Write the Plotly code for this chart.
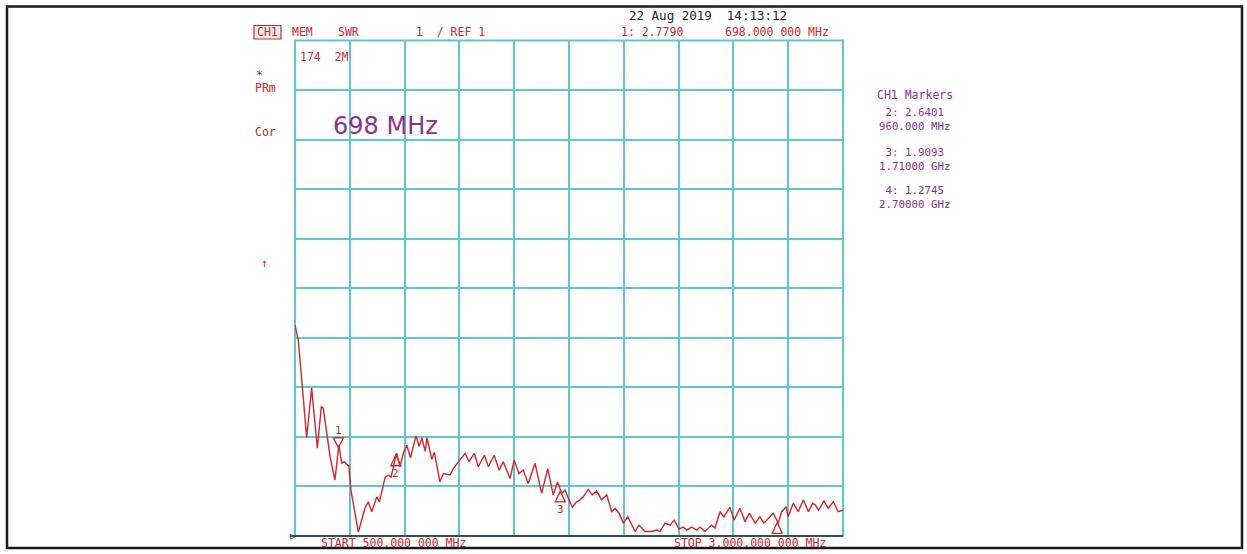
import plotly.graph_objects as go

# ---------------- data ----------------
freq_mhz = [500, 503, 515, 535, 553, 576, 602, 620, 629, 660, 682, 700, 713, 724, 738,
            746, 755, 789, 819, 834, 850, 873, 885, 911, 926, 938, 956, 964, 979, 994,
            1010, 1027, 1052, 1066, 1079, 1094, 1102, 1124, 1136, 1161, 1177, 1207, 1222,
            1245, 1276, 1294, 1318, 1336, 1364, 1382, 1409, 1431, 1450, 1481, 1500, 1522,
            1541, 1564, 1595, 1625, 1653, 1678, 1698, 1717, 1732, 1750, 1765, 1785, 1800,
            1815, 1838, 1856, 1876, 1899, 1922, 1945, 1960, 1978, 1998, 2018, 2051, 2069,
            2097, 2127, 2150, 2165, 2188, 2211, 2230, 2252, 2271, 2287, 2310, 2333, 2348,
            2370, 2401, 2416, 2439, 2457, 2484, 2503, 2530, 2553, 2573, 2599, 2621, 2639,
            2659, 2682, 2705, 2720, 2740, 2750, 2773, 2796, 2819, 2842, 2862, 2873, 2888,
            2913, 2933, 2956, 2978, 3000]
swr = [5.26, 5.18, 4.95, 3.94, 2.98, 3.99, 2.77, 3.61, 3.58, 2.60, 2.13, 2.83, 2.47, 2.50, 2.45,
       2.41, 1.93, 1.08, 1.56, 1.69, 1.49, 1.79, 1.69, 2.18, 2.23, 2.19, 2.53, 2.67, 2.40, 2.67,
       2.83, 2.58, 3.02, 2.81, 2.98, 2.71, 2.98, 2.55, 2.69, 2.09, 2.26, 2.23, 2.36,
       2.50, 2.67, 2.50, 2.67, 2.40, 2.63, 2.40, 2.63, 2.33, 2.50, 2.16, 2.53, 2.26,
       2.33, 2.06, 2.47, 1.86, 2.36, 1.83, 2.09, 1.86, 1.93, 1.73, 1.58, 1.69, 1.73,
       1.79, 1.94, 1.83, 1.91, 1.73, 1.83, 1.49, 1.56, 1.46, 1.26, 1.39, 1.09, 1.22,
       1.09, 1.09, 1.12, 1.09, 1.26, 1.22, 1.32, 1.14, 1.18, 1.12, 1.18, 1.12, 1.18,
       1.09, 1.22, 1.16, 1.49, 1.39, 1.58, 1.32, 1.56, 1.29, 1.46, 1.26, 1.39, 1.26,
       1.36, 1.46, 1.26, 1.49, 1.59, 1.39, 1.66, 1.49, 1.73, 1.49, 1.66, 1.63, 1.52,
       1.71, 1.56, 1.69, 1.49, 1.52]

marker_ids = ["1", "2", "3", "4"]
marker_freq = [698, 960, 1710, 2700]
marker_swr = [2.7790, 2.6401, 1.9093, 1.2745]
marker_freq_text = ["698.000 000 MHz", "960.000 MHz", "1.71000 GHz", "2.70000 GHz"]

x_start, x_stop, x_div = 500, 3000, 250
ref_level, scale_div, n_div = 1, 1, 10

date_text = "22 Aug 2019  14:13:12"
start_text = "START 500.000 000 MHz"
stop_text = "STOP 3.000.000 000 MHz"
big_label = "698 MHz"

# ---------------- styling ----------------
W, H = 1247, 554
RED = "#c62a2e"
PURPLE = "#8c318f"
CYAN = "#5ec6d4"
TRACE = "#d2262b"
MONO = "DejaVu Sans Mono"


def px(x):
    return x / W


def py(y):
    return 1 - y / H


fig = go.Figure()
fig.add_trace(go.Scatter(x=freq_mhz, y=swr, mode="lines",
                         line=dict(color=TRACE, width=1.4), hoverinfo="skip",
                         showlegend=False))

shapes = []
# plot frame (cyan) and black baseline
shapes.append(dict(type="rect", xref="x domain", yref="y domain", x0=0, x1=1, y0=0, y1=1,
                   line=dict(color=CYAN, width=2), layer="below"))
shapes.append(dict(type="line", xref="x domain", yref="y domain", x0=-0.01, x1=1, y0=0, y1=0,
                   line=dict(color="#2a2a2a", width=1.6), layer="above"))
# outer screenshot border
shapes.append(dict(type="rect", xref="paper", yref="paper", x0=px(7), x1=px(1242), y0=py(548),
                   y1=py(6.5), line=dict(color="#1a1a1a", width=2.5)))
# CH1 box
shapes.append(dict(type="rect", xref="paper", yref="paper", x0=px(254), x1=px(281), y0=py(39),
                   y1=py(25.5), line=dict(color=RED, width=1.2), fillcolor="#fbeaea",
                   layer="below"))

annotations = []
# marker triangles and labels
for i, (mid, f, v) in enumerate(zip(marker_ids, marker_freq, marker_swr)):
    if i == 0:
        path = "M0,0 L-5,10 L5,10 Z"
        shift = 17
    else:
        path = "M0,0 L-5,-11 L5,-11 Z"
        shift = -19
    shapes.append(dict(type="path", xref="x", yref="y", xsizemode="pixel", ysizemode="pixel",
                       xanchor=f, yanchor=v, path=path, line=dict(color=RED, width=1.3)))
    if mid != "4":
        annotations.append(dict(xref="x", yref="y", x=f, y=v, yshift=shift, text=mid,
                                showarrow=False, font=dict(family=MONO, size=11, color=RED)))


def txt(x, y, s, color=RED, size=11.5, anchor="left", family=MONO):
    annotations.append(dict(xref="paper", yref="paper", x=px(x), y=py(y), text=s,
                            showarrow=False, xanchor=anchor, yanchor="middle", borderpad=0,
                            font=dict(family=family, size=size, color=color)))


txt(628, 15, date_text, color="#222222", size=12.5)
txt(255.5, 32, "CH1")
txt(291, 32, "MEM")
txt(337, 32, "SWR")
txt(415, 32, f"{scale_div}  / REF {ref_level}")
txt(620, 32, f"{marker_ids[0]}: {marker_swr[0]:.4f}")
txt(724, 32, marker_freq_text[0])
txt(299, 57, "174  2M")
txt(255, 75, "*", color=PURPLE)
txt(254, 88, "PRm")
txt(254, 132, "Cor")
txt(260, 263, "↑")
txt(332, 126, big_label, color=PURPLE, size=24, family="DejaVu Sans")
txt(915, 95, "CH1 Markers", color=PURPLE, anchor="center")
rows_y = [120, 159, 198]
for yc, mid, v, ft in zip(rows_y, marker_ids[1:], marker_swr[1:], marker_freq_text[1:]):
    txt(915, yc, f"{mid}: {v:.4f}<br>{ft}", color=PURPLE, anchor="center", size=10.8)
txt(320, 543, start_text)
txt(673, 543, stop_text)
txt(297, 535.5, "▷", color="#2a2a2a", size=10, anchor="right")

fig.update_layout(
    width=W, height=H, margin=dict(l=0, r=0, t=0, b=0),
    paper_bgcolor="white", plot_bgcolor="white",
    shapes=shapes, annotations=annotations, showlegend=False,
    xaxis=dict(domain=[px(295), px(843)], range=[x_start, x_stop], tick0=x_start, dtick=x_div,
               showgrid=True, gridcolor=CYAN, gridwidth=2, showticklabels=False, ticks="",
               zeroline=False, showline=False, fixedrange=True),
    yaxis=dict(domain=[py(536), py(40.5)], range=[ref_level, ref_level + n_div * scale_div],
               tick0=ref_level, dtick=scale_div, showgrid=True, gridcolor=CYAN, gridwidth=2,
               showticklabels=False, ticks="", zeroline=False, showline=False,
               fixedrange=True),
)

fig.write_html("out.html", config={"displayModeBar": False},
               post_script="document.body.style.margin='0';document.body.style.overflow='hidden';")
